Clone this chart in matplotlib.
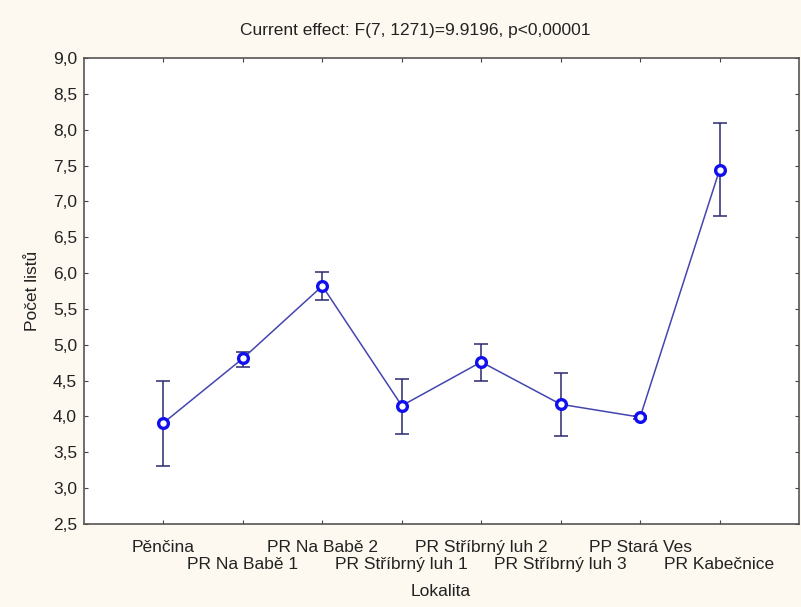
import matplotlib
matplotlib.use("Agg")
import matplotlib.pyplot as plt
from matplotlib.ticker import FuncFormatter, MultipleLocator

plt.rcParams['font.family'] = ['Liberation Sans', 'DejaVu Sans']

sites = ["Pěnčina", "PR Na Babě 1", "PR Na Babě 2", "PR Stříbrný luh 1",
         "PR Stříbrný luh 2", "PR Stříbrný luh 3", "PP Stará Ves", "PR Kabečnice"]
means = [3.91, 4.81, 5.82, 4.15, 4.76, 4.17, 3.99, 7.44]
ci_low = [3.31, 4.69, 5.63, 3.76, 4.49, 3.73, 3.97, 6.79]
ci_high = [4.50, 4.90, 6.01, 4.52, 5.01, 4.60, 4.01, 8.09]

bg = "#fdf9f0"
fs = 12.5
txt = "#222222"
fig = plt.figure(figsize=(8.01, 6.07), dpi=100, facecolor=bg)
ax = fig.add_axes([84/801, 1-524/607, (799-84)/801, (524-58)/607])
ax.set_facecolor("white")

x = list(range(len(sites)))
yerr = [[m - lo for m, lo in zip(means, ci_low)], [hi - m for m, hi in zip(means, ci_high)]]
ax.errorbar(x, means, yerr=yerr, fmt="none", ecolor="#2a2a70", elinewidth=1.1,
            capsize=5, capthick=1.1, zorder=2)
ax.plot(x, means, color="#4545b0", lw=1.1, zorder=3)
ax.plot(x, means, "o", ms=7, mfc="white", mec="#1010ee", mew=2.4, zorder=4)

ax.set_xlim(-1, 8)
ax.set_ylim(2.5, 9.0)
ax.yaxis.set_major_locator(MultipleLocator(0.5))
ax.yaxis.set_major_formatter(FuncFormatter(lambda v, p: f"{v:.1f}".replace(".", ",")))
ax.set_xticks(x)
ax.set_xticklabels(["" for _ in x])
for i, name in enumerate(sites):
    ax.annotate(name, xy=(i, 0), xycoords=("data", "axes fraction"),
                xytext=(0, -11.5 if i % 2 == 0 else -24), textcoords="offset points",
                ha="center", va="top", fontsize=fs, color=txt)

ax.tick_params(direction="in", length=3, width=0.8, colors="#444444",
               top=True, right=True, labelsize=fs, labelcolor=txt, pad=5)
for s in ax.spines.values():
    s.set_color("#555555")
    s.set_linewidth(1.2)

ax.set_ylabel("Počet listů", fontsize=fs, color=txt, labelpad=9)
fig.text(441/801, 1 - 592/607, "Lokalita", ha="center", va="center",
         fontsize=fs, color=txt)
fig.text(415/801, 1 - 30/607, "Current effect: F(7, 1271)=9.9196, p<0,00001",
         ha="center", va="center", fontsize=fs, color=txt)

fig.savefig("out.png", dpi=100, facecolor=bg)
